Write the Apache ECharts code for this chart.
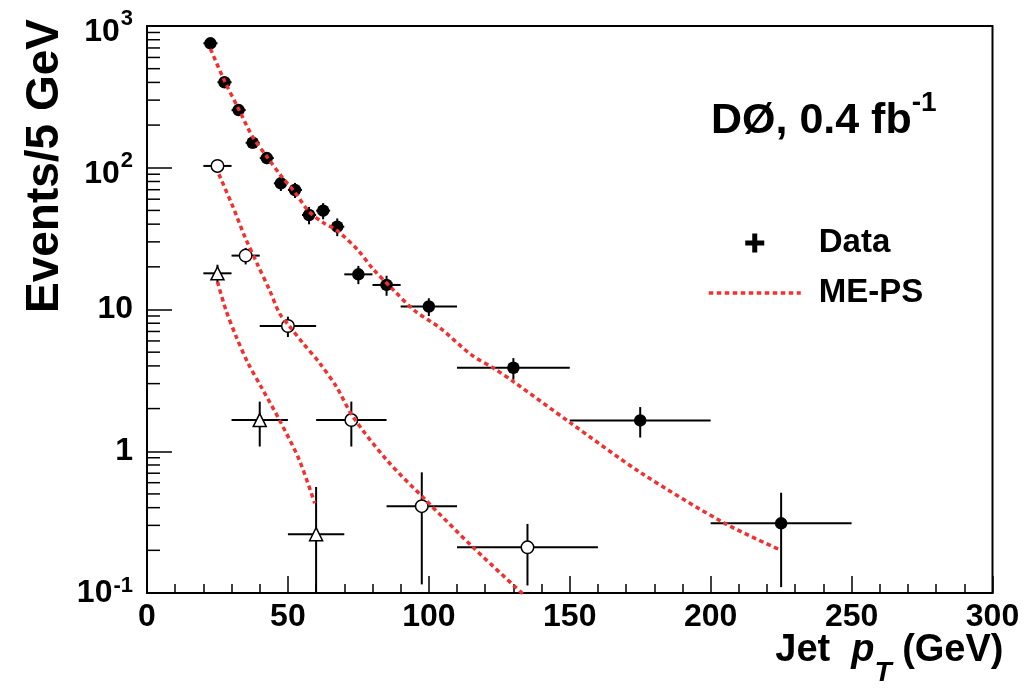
<!DOCTYPE html>
<html><head><meta charset="utf-8">
<script src="https://cdn.jsdelivr.net/npm/echarts@6/dist/echarts.min.js"></script>
<style>html,body{margin:0;padding:0;background:#fff}#c{width:1036px;height:690px}</style>
</head><body><div id="c"></div>
<script>
const FONT = '"Liberation Sans", Arial, Helvetica, sans-serif';

// ---- Data: filled circles ----
const fillX     = [22.5, 27.5, 32.5, 37.5, 42.5, 47.5, 52.5, 57.5, 62.5, 67.5, 75, 85, 100, 130, 175, 225];
const fillXLo   = [20, 25, 30, 35, 40, 45, 50, 55, 60, 65, 70, 80, 90, 110, 150, 200];
const fillXHi   = [25, 30, 35, 40, 45, 50, 55, 60, 65, 70, 80, 90, 110, 150, 200, 250];
const fillY     = [755, 401, 255, 150, 117, 77.6, 69.7, 46.4, 49.8, 38.4, 17.7, 14.9, 10.5, 3.88, 1.65, 0.31];
const fillErrUp = [27, 20, 16, 12, 11, 9, 8.5, 6.5, 6.5, 5.5, 2.6, 2.4, 1.5, 0.66, 0.4, 0.2];
const fillErrDn = [27, 20, 16, 12, 11, 9, 8.5, 6.5, 6.5, 5.5, 2.6, 2.4, 1.5, 0.68, 0.4, 0.2];

// ---- Data: open circles ----
const openX     = [25, 35, 50, 72.5, 97.5, 135];
const openXLo   = [20, 30, 40, 60, 85, 110];
const openXHi   = [30, 40, 60, 85, 110, 160];
const openY     = [103, 24, 7.65, 1.66, 0.41, 0.21];
const openErrUp = [10, 3.2, 1.25, 0.58, 0.30, 0.097];
const openErrDn = [10, 3.2, 1.25, 0.58, 0.295, 0.097];

// ---- Data: open triangles ----
const triX     = [25, 40, 60];
const triXLo   = [20, 30, 50];
const triXHi   = [30, 50, 70];
const triY     = [18, 1.66, 0.26];
const triErrUp = [2.7, 0.58, 0.30];
const triErrDn = [2.7, 0.58, 0.26];

// ---- ME-PS predictions ----
const mepsFillX = [22.5, 27.5, 32.5, 37.5, 42.5, 47.5, 52.5, 57.5, 62.5, 67.5, 75, 80, 87.5, 95, 104, 115, 123, 130, 150, 175, 205, 225];
const mepsFillY = [690, 410, 260, 165, 120, 88, 67, 49, 41, 36, 26, 19.5, 13.7, 9.8, 7.4, 4.8, 3.85, 3.1, 1.6, 0.71, 0.31, 0.20];
const mepsOpenX = [25.5, 30.5, 34.6, 39.3, 43.5, 47, 50.6, 55.3, 61.2, 67.2, 73.1, 85, 99, 115.7, 136];
const mepsOpenY = [90, 53, 33, 20.6, 13.7, 9.4, 7.6, 5.8, 4.2, 2.85, 1.75, 0.87, 0.45, 0.21, 0.088];
const mepsTriX  = [25, 28, 31.7, 35.8, 40.5, 47, 54, 59.5];
const mepsTriY  = [15.7, 9.9, 6.4, 4.2, 2.85, 1.66, 0.87, 0.43];

// ---- Axis tick labels ----
const xTickValues = [0, 50, 100, 150, 200, 250, 300];
const xTickLabels = ['0', '50', '100', '150', '200', '250', '300'];
const yTickValues = [0.1, 1, 10, 100, 1000];
const yTickBase   = ['10', '1', '10', '10', '10'];
const yTickExp    = ['-1', '', '', '2', '3'];
const yMinorTicks = [0.2,0.3,0.4,0.5,0.6,0.7,0.8,0.9, 2,3,4,5,6,7,8,9, 20,30,40,50,60,70,80,90, 200,300,400,500,600,700,800,900];

const RED = '#f2302f';
const DASH = [4.5, 3.5];

function pts(xs, ys) { return xs.map((x, i) => [x, ys[i]]); }
function errData(xs, ys, lo, hi, up, dn) {
  return xs.map((x, i) => [x, ys[i], lo[i], hi[i], ys[i] - dn[i], ys[i] + up[i]]);
}
function errRender(params, api) {
  const cs = params.coordSys;
  const bottom = cs.y + cs.height;
  const x = api.value(0), y = api.value(1);
  const c = api.coord([x, y]);
  const pl = api.coord([api.value(2), y]);
  const ph = api.coord([api.value(3), y]);
  const yl = api.value(4), yh = api.value(5);
  const top = api.coord([x, yh])[1];
  let low = yl > 0 ? api.coord([x, yl])[1] : bottom;
  if (!isFinite(low) || low > bottom) low = bottom;
  const st = { stroke: '#000', lineWidth: 2 };
  return { type: 'group', children: [
    { type: 'line', shape: { x1: pl[0], y1: c[1], x2: ph[0], y2: c[1] }, style: st },
    { type: 'line', shape: { x1: c[0], y1: top, x2: c[0], y2: low }, style: st }
  ]};
}
function minorRender(params, api) {
  const cs = params.coordSys;
  const p = api.coord([0, api.value(1)]);
  return { type: 'line', shape: { x1: cs.x, y1: p[1], x2: cs.x + 13, y2: p[1] }, style: { stroke: '#000', lineWidth: 1.5 } };
}

const chart = echarts.init(document.getElementById('c'), null, { renderer: 'canvas' });
chart.setOption({
  animation: false,
  backgroundColor: '#fff',
  textStyle: { fontFamily: FONT },
  grid: { left: 147, top: 26, right: 43.5, bottom: 97, containLabel: false, outerBoundsMode: 'none',
          show: true, borderColor: '#000', borderWidth: 2, backgroundColor: 'transparent' },
  legend: {
    orient: 'vertical', left: 702, top: 220, itemWidth: 92, itemHeight: 19, itemGap: 14,
    selectedMode: false,
    textStyle: { fontSize: 33, fontWeight: 'bold', color: '#000', fontFamily: FONT, padding: [0, 0, 0, 13], lineHeight: 36 },
    data: [
      { name: 'Data', icon: 'path://M7,0H12V7H19V12H12V19H7V12H0V7H7Z', itemStyle: { color: '#000', borderWidth: 0 } },
      { name: 'ME-PS', itemStyle: { color: 'rgba(0,0,0,0)', borderColor: 'rgba(0,0,0,0)', borderWidth: 0 },
        lineStyle: { color: RED, width: 3.5, type: DASH } }
    ]
  },
  xAxis: {
    type: 'value', min: 0, max: 300, interval: 50,
    name: '{t|Jet  }{i|p}{sub|T}{t| (GeV)}', nameLocation: 'end', nameGap: 11, nameMoveOverlap: false,
    nameTextStyle: { align: 'right', verticalAlign: 'top', padding: [22, 0, 0, 0],
      rich: {
        t: { fontSize: 38, fontWeight: 'bold', fontFamily: FONT, color: '#000', lineHeight: 72 },
        i: { fontSize: 38, fontWeight: 'bold', fontStyle: 'italic', fontFamily: FONT, color: '#000', lineHeight: 72 },
        sub: { fontSize: 28, fontWeight: 'bold', fontStyle: 'italic', fontFamily: FONT, color: '#000', lineHeight: 28, verticalAlign: 'bottom' }
      } },
    axisLine: { show: true, lineStyle: { color: '#000', width: 2 } },
    axisTick: { show: true, inside: true, length: 17, lineStyle: { color: '#000', width: 1.5 } },
    minorTick: { show: true, splitNumber: 5, length: 9, lineStyle: { color: '#000', width: 1.5 } },
    splitLine: { show: false }, minorSplitLine: { show: false },
    axisLabel: { margin: 8, fontSize: 32, fontWeight: 'bold', color: '#000', fontFamily: FONT,
      formatter: v => { const k = xTickValues.indexOf(v); return k >= 0 ? xTickLabels[k] : ''; } }
  },
  yAxis: {
    type: 'log', logBase: 10, min: 0.1, max: 1000,
    axisLine: { show: true, lineStyle: { color: '#000', width: 2 } },
    axisTick: { show: true, inside: true, length: 25, lineStyle: { color: '#000', width: 1.5 } },
    splitLine: { show: false },
    axisLabel: { margin: 14, color: '#000', fontFamily: FONT,
      formatter: v => {
        let k = -1;
        yTickValues.forEach((t, i) => { if (Math.abs(Math.log10(v) - Math.log10(t)) < 1e-6) k = i; });
        if (k < 0) return '';
        const e = yTickExp[k];
        const baseStyle = (e && e.charAt(0) !== '-') ? 'bx' : 'b';
        return '{' + baseStyle + '|' + yTickBase[k] + '}' + (e ? '{s|' + e + '}' : '');
      },
      rich: {
        b:  { fontSize: 32, fontWeight: 'bold', fontFamily: FONT, color: '#000', lineHeight: 44 },
        bx: { fontSize: 32, fontWeight: 'bold', fontFamily: FONT, color: '#000', lineHeight: 44, verticalAlign: 'bottom' },
        s:  { fontSize: 22, fontWeight: 'bold', fontFamily: FONT, color: '#000', lineHeight: 22, verticalAlign: 'top', padding: [4, 0, 0, 1] }
      } }
  },
  graphic: [
    { type: 'text', x: 45, y: 166, rotation: Math.PI / 2, style: {
      text: 'Events/5 GeV', font: 'bold 46px ' + FONT, fill: '#000', align: 'center', verticalAlign: 'middle' } },
    { type: 'text', left: 711, top: 89, style: {
      text: '{m|DØ, 0.4 fb}{s|-1}',
      rich: {
        m: { fontSize: 43, fontWeight: 'bold', fontFamily: FONT, fill: '#000', lineHeight: 64 },
        s: { fontSize: 28, fontWeight: 'bold', fontFamily: FONT, fill: '#000', lineHeight: 28, verticalAlign: 'top' }
      } } }
  ],
  series: [
    { type: 'custom', name: 'minor', renderItem: minorRender, data: yMinorTicks.map(v => [0, v]), encode: { x: 0, y: 1 }, silent: true, z: 1 },
    { type: 'custom', name: 'Data', renderItem: errRender, encode: { x: 0, y: 1 }, z: 2, itemStyle: { color: '#000' },
      data: errData(fillX, fillY, fillXLo, fillXHi, fillErrUp, fillErrDn)
        .concat(errData(openX, openY, openXLo, openXHi, openErrUp, openErrDn))
        .concat(errData(triX, triY, triXLo, triXHi, triErrUp, triErrDn)) },
    { type: 'scatter', name: 'filled', data: pts(fillX, fillY), symbol: 'circle', symbolSize: 12.5, z: 3,
      itemStyle: { color: '#000', opacity: 1 } },
    { type: 'scatter', name: 'open', data: pts(openX, openY), symbol: 'circle', symbolSize: 12.5, z: 3,
      itemStyle: { color: '#fff', borderColor: '#000', borderWidth: 1.5, opacity: 1 } },
    { type: 'scatter', name: 'tri', data: pts(triX, triY), symbol: 'triangle', symbolSize: 13, z: 3,
      itemStyle: { color: '#fff', borderColor: '#000', borderWidth: 1.5, opacity: 1 } },
    { type: 'line', name: 'ME-PS', data: pts(mepsFillX, mepsFillY), smooth: 0.3, symbol: 'none', z: 4, clip: true,
      lineStyle: { color: RED, width: 3.5, type: DASH }, itemStyle: { color: RED } },
    { type: 'line', name: 'ME-PS', data: pts(mepsOpenX, mepsOpenY), smooth: 0.3, symbol: 'none', z: 4, clip: true,
      lineStyle: { color: RED, width: 3.5, type: DASH }, itemStyle: { color: RED } },
    { type: 'line', name: 'ME-PS', data: pts(mepsTriX, mepsTriY), smooth: 0.3, symbol: 'none', z: 4, clip: true,
      lineStyle: { color: RED, width: 3.5, type: DASH }, itemStyle: { color: RED } }
  ]
});
</script>
</body></html>
